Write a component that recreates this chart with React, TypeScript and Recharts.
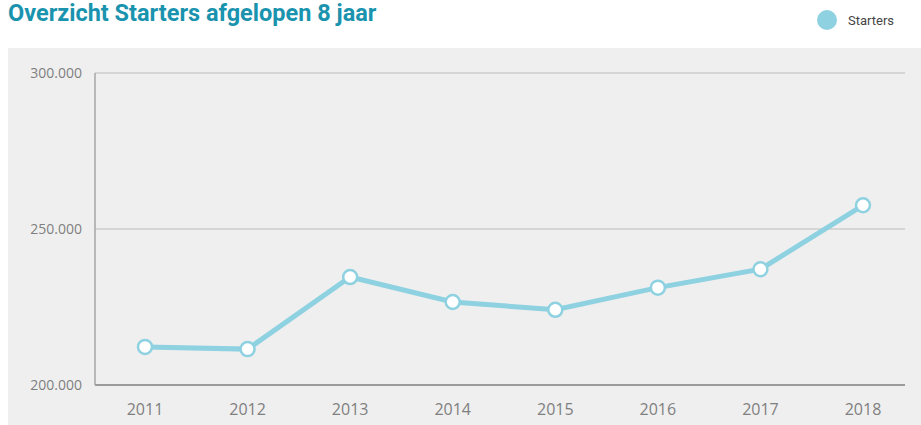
import { LineChart, Line, XAxis, YAxis, CartesianGrid } from "recharts";

const years = ["2011", "2012", "2013", "2014", "2015", "2016", "2017", "2018"];
const starters = [212200, 211500, 234600, 226600, 224100, 231200, 237100, 257600];
const yTicks = [200000, 250000, 300000];

const data = years.map((year, i) => ({ year, starters: starters[i] }));

const LINE = "#8ed1e1";
const fmt = (v: number) => v.toLocaleString("de-DE");

export default function App() {
  return (
    <div style={{ position: "absolute", left: 0, top: 0, width: 921, height: 425, background: "#fff" }}>
      <div
        style={{
          position: "absolute", left: 8, top: -1, fontFamily: "Roboto", fontWeight: 700,
          fontSize: 23.5, color: "#1a93ae", lineHeight: "28px",
        }}
      >
        Overzicht Starters afgelopen 8 jaar
      </div>
      <div style={{ position: "absolute", left: 817, top: 10, display: "flex", alignItems: "center" }}>
        <span style={{ width: 20, height: 20, borderRadius: 10, background: LINE, display: "inline-block" }} />
        <span style={{ marginLeft: 11, fontFamily: "Roboto", fontSize: 13, color: "#444" }}>Starters</span>
      </div>
      <div style={{ position: "absolute", left: 8, top: 48, width: 913, height: 377, background: "#efefef" }}>
        <LineChart width={913} height={377} data={data} margin={{ top: 25, right: 16, bottom: 0, left: 0 }}>
          <CartesianGrid vertical={false} stroke="#bcbcbc" horizontalValues={yTicks} />
          <XAxis
            dataKey="year"
            height={40}
            padding={{ left: 50, right: 42 }}
            axisLine={{ stroke: "#9a9a9a", strokeWidth: 2 }}
            tickLine={false}
            tickSize={0}
            tickMargin={19}
            tick={{ fill: "#808080", fontSize: 16, fontFamily: "Open Sans" }}
          />
          <YAxis
            width={87}
            domain={[200000, 300000]}
            ticks={yTicks}
            tickFormatter={fmt}
            axisLine={{ stroke: "#a6a6a6", strokeWidth: 1.5 }}
            tickLine={false}
            tickSize={0}
            tickMargin={13}
            tick={{ fill: "#7f7f7f", fontSize: 14, fontFamily: "Open Sans" }}
          />
          <Line
            dataKey="starters"
            stroke={LINE}
            strokeWidth={5}
            dot={{ r: 7, fill: "#fff", stroke: LINE, strokeWidth: 2.5 }}
            isAnimationActive={false}
          />
        </LineChart>
      </div>
    </div>
  );
}
